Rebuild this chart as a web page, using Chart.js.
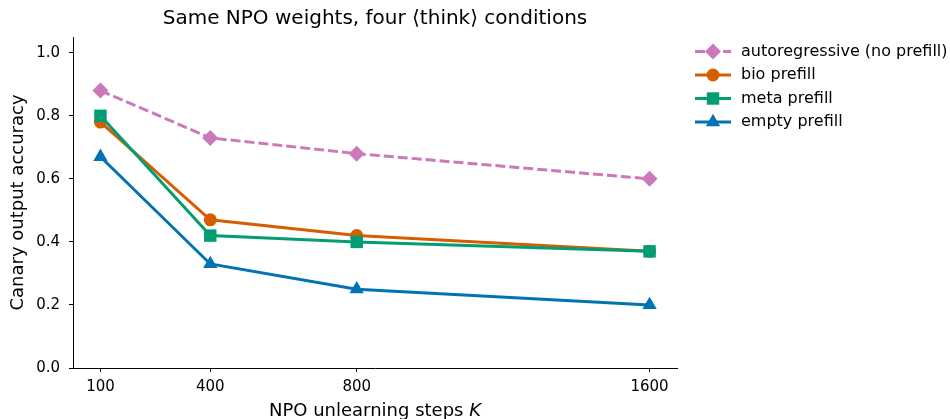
<!DOCTYPE html>
<html>
<head>
<meta charset="utf-8">
<script src="https://cdn.jsdelivr.net/npm/chart.js@4"></script>
<style>
  html, body { margin: 0; padding: 0; background: #fff; }
  #wrap { width: 950px; height: 419px; }
</style>
</head>
<body>
<div id="wrap"><canvas id="chart" width="950" height="419"></canvas></div>
<script>
//x positions (NPO unlearning steps K)
const steps = [100, 400, 800, 1600];
//y values for each condition
const autoregressive = [0.88, 0.73, 0.68, 0.60];
const bioPrefill = [0.78, 0.47, 0.42, 0.37];
const metaPrefill = [0.80, 0.42, 0.40, 0.37];
const emptyPrefill = [0.67, 0.33, 0.25, 0.20];
//legend names
const seriesNames = ["autoregressive (no prefill)", "bio prefill", "meta prefill", "empty prefill"];
//tick labels
const xTicks = [100, 400, 800, 1600];
const yTicks = [0, 0.2, 0.4, 0.6, 0.8, 1.0];

const FONT = "'DejaVu Sans', sans-serif";
const toPoints = (vals) => vals.map((v, i) => ({ x: steps[i], y: v }));

//series styles (matplotlib colorblind palette)
const series = [
  { values: autoregressive, color: "#CC78BC", style: "rectRot", radius: 8, dash: [10, 4] },
  { values: bioPrefill, color: "#D55E00", style: "circle", radius: 6.5, dash: [] },
  { values: metaPrefill, color: "#029E73", style: "rect", radius: 8.8, dash: [] },
  { values: emptyPrefill, color: "#0173B2", style: "triangle", radius: 8.3, dash: [] },
];

//draws legend (line + marker) outside the axes and the x label with italic K
const extras = {
  id: "extras",
  afterDraw(chart) {
    const ctx = chart.ctx;
    const area = chart.chartArea;
    ctx.save();
    //legend
    const x0 = 695, x1 = 731, rowY = 51.5, rowH = 23.5;
    chart.data.datasets.forEach((ds, i) => {
      const y = rowY + i * rowH;
      ctx.strokeStyle = ds.borderColor;
      ctx.lineWidth = ds.borderWidth;
      ctx.setLineDash(ds.borderDash || []);
      ctx.beginPath();
      ctx.moveTo(x0, y);
      ctx.lineTo(x1, y);
      ctx.stroke();
      ctx.setLineDash([]);
      ctx.fillStyle = ds.backgroundColor;
      Chart.helpers.drawPoint(ctx, {
        pointStyle: ds.pointStyle, radius: ds.pointRadius, rotation: 0, borderWidth: 0
      }, (x0 + x1) / 2, y);
      ctx.fillStyle = "#000";
      ctx.font = "16px " + FONT;
      ctx.textAlign = "left";
      ctx.textBaseline = "middle";
      ctx.fillText(ds.label, 741, y);
    });
    //x axis title
    const main = "NPO unlearning steps ";
    ctx.font = "18px " + FONT;
    const w1 = ctx.measureText(main).width;
    ctx.font = "italic 18px " + FONT;
    const w2 = ctx.measureText("K").width;
    const start = (area.left + area.right) / 2 - (w1 + w2) / 2;
    ctx.textAlign = "left";
    ctx.textBaseline = "middle";
    ctx.fillStyle = "#000";
    ctx.font = "18px " + FONT;
    ctx.fillText(main, start, 411);
    ctx.font = "italic 18px " + FONT;
    ctx.fillText("K", start + w1, 411);
    ctx.restore();
  }
};

const myChart = new Chart(document.getElementById("chart"), {
  type: "line",
  plugins: [extras],
  data: {
    datasets: series.map((s, i) => ({
      label: seriesNames[i],
      data: toPoints(s.values),
      borderColor: s.color,
      backgroundColor: s.color,
      borderWidth: 3,
      borderDash: s.dash,
      pointStyle: s.style,
      pointRadius: s.radius,
      pointHoverRadius: s.radius,
      pointBorderWidth: 0,
      tension: 0,
      order: series.length - i,
    })),
  },
  options: {
    responsive: false,
    animation: false,
    layout: { padding: { left: 0, right: 273, top: 0, bottom: 0 } },
    plugins: {
      legend: { display: false },
      tooltip: { enabled: false },
      title: {
        display: true,
        fullSize: false,
        text: "Same NPO weights, four \u27E8think\u27E9 conditions",
        color: "#000",
        font: { family: FONT, size: 20, weight: "normal" },
        padding: { top: 7, bottom: 6 },
      },
    },
    scales: {
      x: {
        type: "linear",
        min: 25,
        max: 1675,
        afterBuildTicks: (scale) => { scale.ticks = xTicks.map((v) => ({ value: v })); },
        afterFit: (scale) => { scale.height = 51; },
        grid: { display: true, drawOnChartArea: false, drawTicks: true, tickLength: 4, color: "#000", tickWidth: 1 },
        border: { display: true, color: "#000", width: 1 },
        ticks: { color: "#000", font: { family: FONT, size: 15 }, padding: 6, maxRotation: 0, autoSkip: false, callback: (v) => String(v) },
      },
      y: {
        type: "linear",
        min: 0,
        max: 1.05,
        afterBuildTicks: (scale) => { scale.ticks = yTicks.map((v) => ({ value: v })); },
        afterFit: (scale) => { scale.width = 73; },
        grid: { display: true, drawOnChartArea: false, drawTicks: true, tickLength: 4, color: "#000", tickWidth: 1 },
        border: { display: true, color: "#000", width: 1 },
        ticks: { color: "#000", font: { family: FONT, size: 15 }, padding: 9, callback: (v) => Number(v).toFixed(1) },
        title: {
          display: true,
          text: "Canary output accuracy",
          color: "#000",
          font: { family: FONT, size: 18 },
          padding: { top: 8, bottom: 0 },
        },
      },
    },
  },
});
</script>
</body>
</html>
